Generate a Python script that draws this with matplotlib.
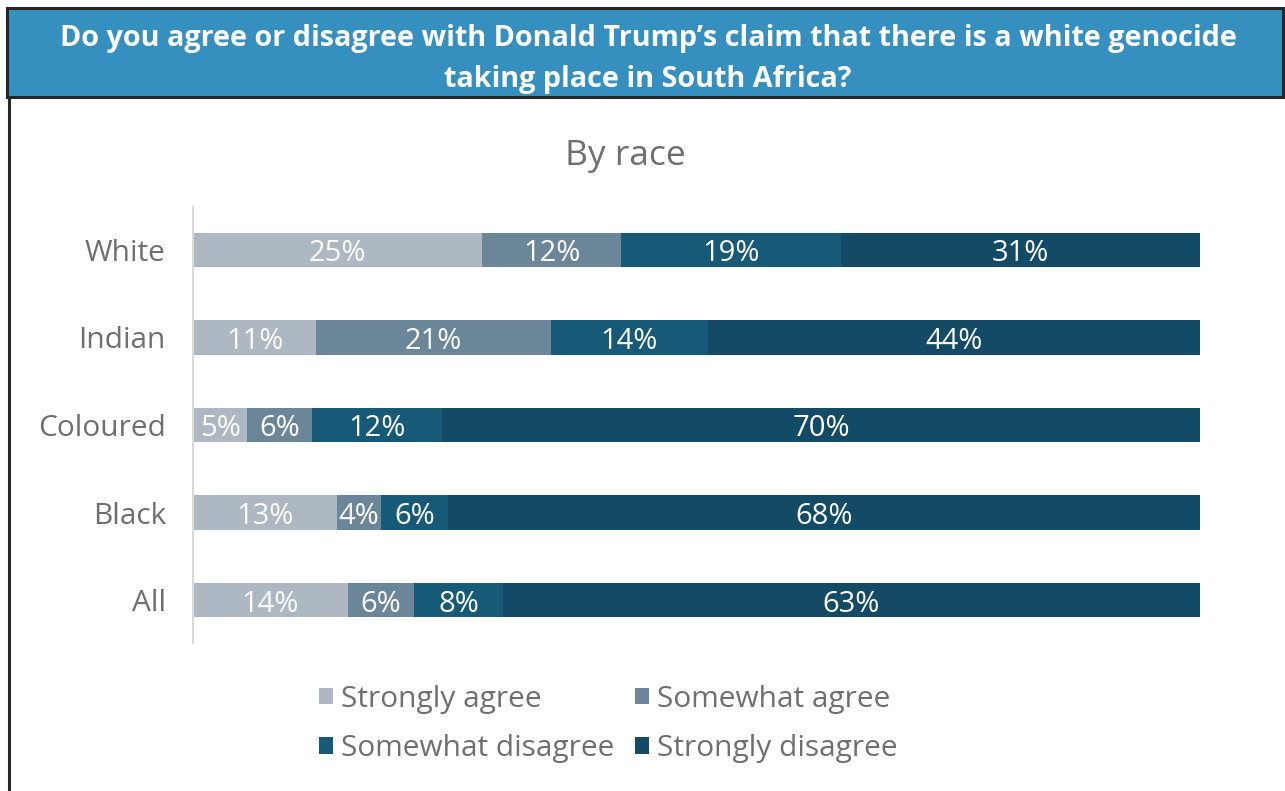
import numpy as np
import matplotlib.pyplot as plt
from matplotlib.patches import Rectangle, Patch
from matplotlib.lines import Line2D

plt.rcParams['font.family'] = ['Open Sans', 'DejaVu Sans']

# Survey results by race
groups = ['White', 'Indian', 'Coloured', 'Black', 'All']
responses = ['Strongly agree', 'Somewhat agree', 'Somewhat disagree', 'Strongly disagree']
strongly_agree = [25, 11, 5, 13, 14]
somewhat_agree = [12, 21, 6, 4, 6]
somewhat_disagree = [19, 14, 12, 6, 8]
strongly_disagree = [31, 44, 70, 68, 63]

colors = ['#aeb8c2', '#6b8599', '#165a78', '#134a66']
text_grey = '#6f6f6f'

series = np.array([strongly_agree, somewhat_agree, somewhat_disagree, strongly_disagree], dtype=float)
totals = series.sum(axis=0)
shares = series / totals

fig = plt.figure(figsize=(12.85, 7.91), dpi=100)
W, H = 1285, 791

# header band with the question
fig.patches.append(Rectangle((7 / W, 1 - 97 / H), 1276 / W, 89 / H, transform=fig.transFigure,
                             facecolor='#3690bf', edgecolor='#262626', linewidth=2.2, zorder=0))
fig.lines.append(Line2D([9 / W, 9 / W], [0, 1 - 97 / H], transform=fig.transFigure,
                        color='#262626', linewidth=2.2))
fig.text(648 / W, 1 - 38.5 / H, 'Do you agree or disagree with Donald Trump\u2019s claim that there is a white genocide',
         ha='center', va='center', color='white', fontsize=20.7, fontweight='bold')
fig.text(648 / W, 1 - 79 / H, 'taking place in South Africa?',
         ha='center', va='center', color='white', fontsize=20.7, fontweight='bold')
fig.text(625 / W, 1 - 156 / H, 'By race', ha='center', va='center', color=text_grey,
         fontsize=25.5)

ax = fig.add_axes([193 / W, 1 - 643 / H, 1007 / W, 436 / H])
y = np.arange(len(groups))
left = np.zeros(len(groups))
for vals, share, col, name in zip(series, shares, colors, responses):
    ax.barh(y, share, left=left, height=0.39, color=col, label=name)
    for yi, l, s, v in zip(y, left, share, vals):
        ax.text(l + s / 2, yi + 0.045, f'{int(v)}%', ha='center', va='center', color='white',
                fontsize=21)
    left += share

ax.set_xlim(0, 1)
ax.set_ylim(4.49, -0.49)
ax.set_yticks(y)
ax.set_yticklabels(groups, fontsize=21.5, color=text_grey)
ax.tick_params(axis='y', length=0, pad=19.5)
ax.set_xticks([])
for side in ['top', 'right', 'bottom']:
    ax.spines[side].set_visible(False)
ax.spines['left'].set_color('#d9d9d9')
ax.spines['left'].set_linewidth(1.5)

# legend fills column by column, so order the handles to read across rows
order = [0, 2, 1, 3]
handles = [Patch(facecolor=colors[i], label=responses[i]) for i in order]
leg = fig.legend(handles=handles, ncol=2, loc='upper left', bbox_to_anchor=(292 / W, 1 - 658 / H),
                 frameon=False, fontsize=21.5, handlelength=0.47, handleheight=0.47,
                 handletextpad=0.27, columnspacing=0.68, labelspacing=0.68)
for t in leg.get_texts():
    t.set_color(text_grey)

fig.savefig('out.png', dpi=100)
